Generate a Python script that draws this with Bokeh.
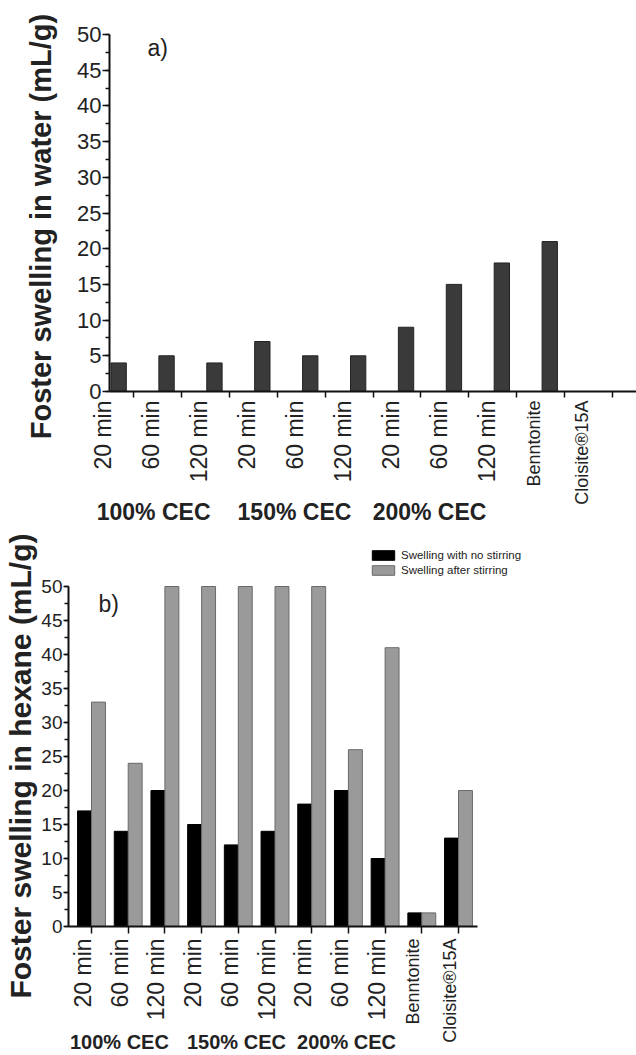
from math import pi
import numpy as np
from bokeh.plotting import figure
from bokeh.models import Range1d, FixedTicker, SingleIntervalTicker, Label, Legend, LegendItem
from bokeh.layouts import column
from bokeh.embed import file_html
from bokeh.resources import INLINE

# ---------------- data ----------------
category_labels = ["20 min", "60 min", "120 min",
                   "20 min", "60 min", "120 min",
                   "20 min", "60 min", "120 min",
                   "Benntonite", "Cloisite®15A"]
group_labels = ["100% CEC", "150% CEC", "200% CEC"]
water_swelling = [4, 5, 4, 7, 5, 5, 9, 15, 18, 21, 0]
hexane_no_stirring = [17, 14, 20, 15, 12, 14, 18, 20, 10, 2, 13]
hexane_after_stirring = [33, 24, 50, 50, 50, 50, 50, 26, 41, 2, 20]
y_max = 50
y_tick_interval = 5

FONT = "Liberation Sans"
TXT = "#222222"
W = 636
n = len(category_labels)
idx = np.arange(n)


def make_fig(height, px_x, px_y, tick0_px, axis_px, yaxis_px, xaxis_end_px,
             tick_fs, y_tick_out, x_tick_out):
    # frame == canvas; pixel anchors converted into data ranges
    x_start = -tick0_px / px_x
    x_end = (W - tick0_px) / px_x
    y_start = -(height - axis_px) / px_y
    y_end = axis_px / px_y
    p = figure(width=W, height=height, output_backend="svg", toolbar_location=None,
               x_range=Range1d(x_start, x_end), y_range=Range1d(y_start, y_end),
               min_border=0)
    p.grid.visible = False
    p.outline_line_color = None
    p.background_fill_color = "white"
    p.border_fill_color = "white"

    y_axis_loc = (yaxis_px - tick0_px) / px_x
    p.xaxis.fixed_location = 0
    p.xaxis.bounds = (y_axis_loc, (xaxis_end_px - tick0_px) / px_x)
    p.xaxis.ticker = FixedTicker(ticks=[], minor_ticks=list(range(n)))
    p.xaxis.minor_tick_out = x_tick_out
    p.xaxis.minor_tick_in = 0
    p.xaxis.major_tick_line_color = None

    p.yaxis.fixed_location = y_axis_loc
    p.yaxis.bounds = (0, y_max)
    p.yaxis.ticker = SingleIntervalTicker(interval=y_tick_interval, num_minor_ticks=2)
    p.yaxis.major_tick_out = y_tick_out
    p.yaxis.major_tick_in = 0
    p.yaxis.minor_tick_out = 4
    p.yaxis.minor_tick_in = 0
    p.yaxis.major_label_text_font = FONT
    p.yaxis.major_label_text_font_size = tick_fs
    p.yaxis.major_label_text_color = TXT
    p.yaxis.major_label_standoff = 1
    for ax in p.axis:
        ax.axis_line_width = 2
        ax.axis_line_color = "#111111"
        ax.major_tick_line_width = 1.5
        ax.minor_tick_line_width = 1.5
        ax.minor_tick_line_color = "#111111"
    p.yaxis.major_tick_line_color = "#111111"
    return p


# ---------------- top chart (water) ----------------
H1 = 524
p1 = make_fig(height=H1, px_x=47.9, px_y=7.14, tick0_px=133, axis_px=391,
              yaxis_px=109, xaxis_end_px=W, tick_fs="22px", y_tick_out=7, x_tick_out=6)
p1.vbar(x=idx - 0.31, top=water_swelling, width=0.32,
        fill_color="#3a3a3a", line_color="#222222", line_width=1)

for i, t in enumerate(category_labels):
    fs = "18px" if i >= 9 else "23px"
    p1.add_layout(Label(x=i - 0.63, y=-1.26, text=t, angle=pi / 2,
                        text_align="right", text_baseline="middle",
                        text_font=FONT, text_font_size=fs, text_color=TXT))
for gx, g in zip([0.42, 3.36, 6.18], group_labels):
    p1.add_layout(Label(x=gx, y=-15.0, text=g, text_align="center",
                        text_baseline="top", text_font=FONT,
                        text_font_size="23px", text_font_style="bold", text_color=TXT))
p1.add_layout(Label(x=0.29, y=50.0, text="a)", text_font=FONT, text_font_size="23px",
                    text_color=TXT, text_baseline="top"))
p1.add_layout(Label(x=-1.94, y=23.1, text="Foster swelling in water (mL/g)", angle=pi / 2,
                    text_align="center", text_baseline="middle", text_font=FONT,
                    text_font_size="29px", text_font_style="bold", text_color=TXT))

# ---------------- bottom chart (hexane) ----------------
H2 = 1055 - H1
p2 = make_fig(height=H2, px_x=36.7, px_y=6.8, tick0_px=91, axis_px=926 - H1,
              yaxis_px=68, xaxis_end_px=477, tick_fs="19px", y_tick_out=5, x_tick_out=7)
r1 = p2.vbar(x=idx - 0.19, top=hexane_no_stirring, width=0.38,
             fill_color="#000000", line_color="#000000", line_width=1)
r2 = p2.vbar(x=idx + 0.19, top=hexane_after_stirring, width=0.38,
             fill_color="#9a9a9a", line_color="#6a6a6a", line_width=1)

for i, t in enumerate(category_labels):
    fs = "18px" if i >= 9 else "23px"
    p2.add_layout(Label(x=i - 0.23, y=-1.76, text=t, angle=pi / 2,
                        text_align="right", text_baseline="middle",
                        text_font=FONT, text_font_size=fs, text_color=TXT))
for gx, g in zip([0.76, 3.95, 6.95], group_labels):
    p2.add_layout(Label(x=gx, y=-15.4, text=g, text_align="center",
                        text_baseline="top", text_font=FONT,
                        text_font_size="20px", text_font_style="bold", text_color=TXT))
p2.add_layout(Label(x=0.19, y=49.3, text="b)", text_font=FONT, text_font_size="23px",
                    text_color=TXT, text_baseline="top"))
p2.add_layout(Label(x=-1.935, y=23.6, text="Foster swelling in hexane (mL/g)", angle=pi / 2,
                    text_align="center", text_baseline="middle", text_font=FONT,
                    text_font_size="30px", text_font_style="bold", text_color=TXT))

legend = Legend(items=[LegendItem(label="Swelling with no stirring", renderers=[r1]),
                       LegendItem(label="Swelling after stirring", renderers=[r2])],
                location=(369, 1055 - 576), glyph_width=28, glyph_height=12, label_height=12,
                spacing=3, padding=0, margin=0, border_line_alpha=0,
                background_fill_alpha=0, label_standoff=4,
                label_text_font=FONT, label_text_font_size="11.5px",
                label_text_color=TXT)
p2.add_layout(legend)

layout = column(p1, p2, spacing=0)
open("out.html", "w").write(file_html(layout, INLINE))
